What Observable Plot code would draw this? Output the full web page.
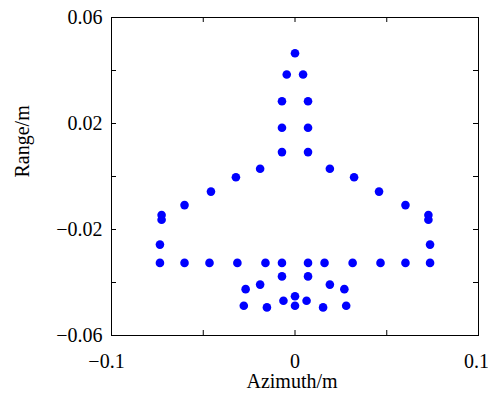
<!DOCTYPE html>
<html>
<head>
<meta charset="utf-8">
<script src="https://cdn.jsdelivr.net/npm/d3@7"></script>
<script src="https://cdn.jsdelivr.net/npm/@observablehq/plot@0.6"></script>
<style>
  html, body { margin: 0; padding: 0; background: #fff; }
  #chart svg { display: block; }
</style>
</head>
<body>
<div id="chart"></div>
<script>
// Scatterer positions (m)
const azimuth = [
  0,
  -0.0045, 0.0044,
  -0.0071, 0.0071,
  -0.0071, 0.0071,
  -0.0071, 0.0071,
  -0.019, 0.019,
  -0.0322, 0.0322,
  -0.0458, 0.0458,
  -0.0602, 0.0602,
  -0.0727, 0.0727,
  -0.0727, 0.0727,
  -0.0736, 0.0736,
  -0.0736, -0.0602, -0.0466, -0.0314, -0.0161, -0.0071, 0.0071, 0.0161, 0.0314, 0.0466, 0.0602, 0.0736,
  -0.0071, 0.0071,
  -0.019, 0.019,
  -0.0269, 0.0269,
  0,
  -0.0063, 0.0063,
  0, -0.0279, 0.0279,
  -0.0153, 0.0153
];
const range = [
  0.0465,
  0.0385, 0.0385,
  0.0284, 0.0284,
  0.0184, 0.0184,
  0.0092, 0.0092,
  0.0029, 0.0029,
  -0.0003, -0.0003,
  -0.0057, -0.0057,
  -0.0108, -0.0108,
  -0.0145, -0.0145,
  -0.0163, -0.0163,
  -0.0257, -0.0257,
  -0.0326, -0.0326, -0.0326, -0.0326, -0.0326, -0.0326, -0.0326, -0.0326, -0.0326, -0.0326, -0.0326, -0.0326,
  -0.0377, -0.0377,
  -0.0408, -0.0408,
  -0.0425, -0.0425,
  -0.0452,
  -0.0469, -0.0469,
  -0.0488, -0.0488, -0.0488,
  -0.0494, -0.0494
];

const xTicks = [-0.1, -0.05, 0, 0.05, 0.1];
const xTickLabels = [-0.1, 0, 0.1];
const xTickText = ["\u22120.1\u2002", "0", "0.1\u2009"];
const yTicks = [-0.06, -0.04, -0.02, 0, 0.02, 0.04, 0.06];
const yTickLabels = [0.06, 0.02, -0.02, -0.06];
const yTickText = ["0.06", "0.02", "\u22120.02", "\u22120.06"];
const xLabel = "Azimuth/m";
const yLabel = "Range/m";

const points = azimuth.map((a, i) => ({a, r: range[i]}));
const font = "'Liberation Serif', 'Times New Roman', serif";
const W = 488, H = 400, mT = 17, mB = 65, mL = 111, mR = 10;
const innerH = H - mT - mB, innerW = W - mL - mR;
const tk = 5;

const chart = Plot.plot({
  width: W,
  height: H,
  marginTop: mT,
  marginBottom: mB,
  marginLeft: mL,
  marginRight: mR,
  style: {fontFamily: font, fontSize: "20px", color: "#000", background: "#fff"},
  x: {domain: [-0.1, 0.1]},
  y: {domain: [-0.06, 0.06]},
  marks: [
    Plot.axisX(xTickLabels, {anchor: "bottom", tickSize: 0, tickPadding: 18, label: null,
      tickFormat: d => xTickText[xTickLabels.indexOf(d)], fontSize: 20}),
    Plot.axisY(yTickLabels, {anchor: "left", tickSize: 0, tickPadding: 9, label: null,
      tickFormat: d => yTickText[yTickLabels.indexOf(d)], fontSize: 20}),
    // inward ticks on all four sides
    Plot.tickX(xTicks, {x: d => d, insetTop: innerH - tk, stroke: "#000", strokeWidth: 1}),
    Plot.tickX(xTicks, {x: d => d, insetBottom: innerH - tk, stroke: "#000", strokeWidth: 1}),
    Plot.tickY(yTicks, {y: d => d, insetRight: innerW - tk, stroke: "#000", strokeWidth: 1}),
    Plot.tickY(yTicks, {y: d => d, insetLeft: innerW - tk, stroke: "#000", strokeWidth: 1}),
    Plot.frame({stroke: "#000", strokeWidth: 1}),
    Plot.dot(points, {x: "a", y: "r", r: 4.3, fill: "#0000ff", stroke: null}),
    Plot.text([xLabel], {frameAnchor: "bottom", dy: 52, dx: -3, text: d => d, fontSize: 20, fill: "#000"}),
    Plot.text([yLabel], {frameAnchor: "left", dx: -89, dy: 1, rotate: -90, text: d => d, fontSize: 20, fill: "#000"})
  ]
});
document.getElementById("chart").appendChild(chart);
</script>
</body>
</html>
